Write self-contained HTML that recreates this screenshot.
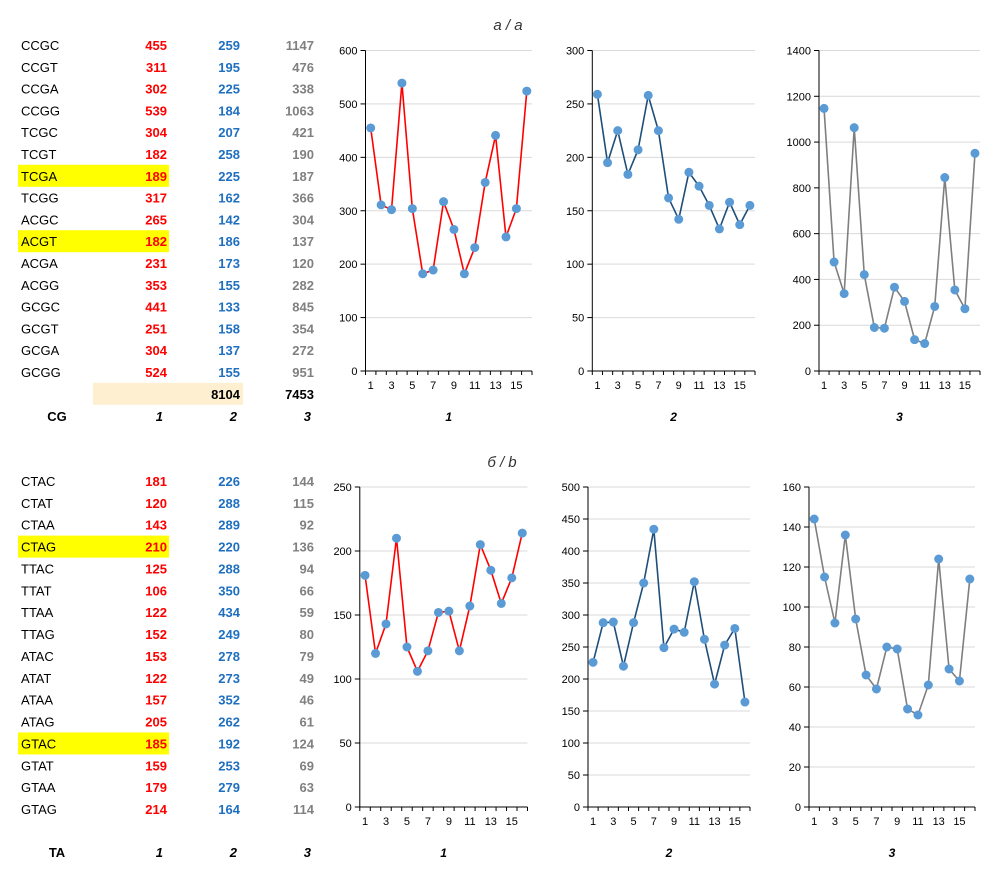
<!DOCTYPE html>
<html><head><meta charset="utf-8"><style>
body{margin:0;background:#fff;width:994px;height:876px;overflow:hidden;font-family:"Liberation Sans",Arial,sans-serif}
svg{display:block}
</style></head><body>
<svg id="s" width="994" height="876" font-family="Liberation Sans, Arial, sans-serif">
<text x="508" y="30" font-size="15" font-style="italic" fill="#333" text-anchor="middle">а / a</text>
<text x="502" y="467" font-size="15" font-style="italic" fill="#333" text-anchor="middle">б / b</text>
</svg>
<script>
const namesA=["CCGC","CCGT","CCGA","CCGG","TCGC","TCGT","TCGA","TCGG","ACGC","ACGT","ACGA","ACGG","GCGC","GCGT","GCGA","GCGG"];
const a1=[455,311,302,539,304,182,189,317,265,182,231,353,441,251,304,524];
const a2=[259,195,225,184,207,258,225,162,142,186,173,155,133,158,137,155];
const a3=[1147,476,338,1063,421,190,187,366,304,137,120,282,845,354,272,951];
const namesB=["CTAC","CTAT","CTAA","CTAG","TTAC","TTAT","TTAA","TTAG","ATAC","ATAT","ATAA","ATAG","GTAC","GTAT","GTAA","GTAG"];
const b1=[181,120,143,210,125,106,122,152,153,122,157,205,185,159,179,214];
const b2=[226,288,289,220,288,350,434,249,278,273,352,262,192,253,279,164];
const b3=[144,115,92,136,94,66,59,80,79,49,46,61,124,69,63,114];
const hlA=["TCGA","ACGT"], hlB=["CTAG","GTAC"];
const NS="http://www.w3.org/2000/svg";
const svg=document.getElementById('s');
function mk(t,at,txt){const e=document.createElementNS(NS,t);for(const k in at)e.setAttribute(k,at[k]);if(txt!==undefined)e.textContent=txt;svg.appendChild(e);return e;}

function table(names,c1,c2,c3,hl,y0,step,labelY,tag,tot){
  names.forEach((n,i)=>{
    const y=y0+i*step;
    if(hl.includes(n)){const r=mk('rect',{x:18,y:y-11,width:151,height:22,fill:'#ffff00'});
      
      }
    const t=mk('text',{x:21,y:y+5,'font-size':13,fill:'#000'},n);
    
    
    [[c1,167,'#ff0000'],[c2,240,'#1f6fc0'],[c3,314,'#808080']].forEach(([arr,x,c],j)=>{
      const v=mk('text',{x:x,y:y+5,'font-size':13,'font-weight':'bold',fill:c,'text-anchor':'end'},arr[i]);
      
      
    });
  });
  if(tot){
    const y=y0+16*step;
    const r=mk('rect',{x:93,y:y-11,width:150,height:22,fill:'#fdefcf'});
    
    
    const t1=mk('text',{x:240,y:y+5,'font-size':13,'font-weight':'bold',fill:'#000','text-anchor':'end'},tot[0]);
    
    
    const t2=mk('text',{x:314,y:y+5,'font-size':13,'font-weight':'bold',fill:'#000','text-anchor':'end'},tot[1]);
    
    
  }
  const h=mk('text',{x:57,y:labelY+5,'font-size':13,'font-weight':'bold','text-anchor':'middle'},tag);
  
  
  [['1',163],['2',237],['3',311]].forEach(([s,x])=>{
    const e=mk('text',{x:x,y:labelY+5,'font-size':13,'font-weight':'bold','font-style':'italic','text-anchor':'end'},s);
    
    
  });
}
table(namesA,a1,a2,a3,hlA,45,21.8,416,'CG',[8104,7453]);
table(namesB,b1,b2,b3,hlB,481,21.87,852,'TA',null);

function chart(vals,L,R,T,B,max,step,color,name,label,labY){
  const n=vals.length, w=(R-L)/n;
  const xs=i=>L+(i+0.5)*w, ys=v=>B-(v/max)*(B-T);
  for(let v=0;v<=max+1e-9;v+=step){
    const y=ys(v);
    if(v>0){const g=mk('line',{x1:L,x2:R,y1:y,y2:y,stroke:'#d9d9d9','stroke-width':1});
      
      }
    mk('line',{x1:L-5,x2:L,y1:y,y2:y,stroke:'#000'});
    const t=mk('text',{x:L-8,y:y+4,'font-size':11,'text-anchor':'end',fill:'#000'},v);
    
    
  }
  const ax=mk('line',{x1:L,x2:L,y1:T,y2:B,stroke:'#000'});
  
  
  const bx=mk('line',{x1:L,x2:R,y1:B,y2:B,stroke:'#000'});
  
  
  for(let i=0;i<=n;i++)mk('line',{x1:L+i*w,x2:L+i*w,y1:B,y2:B+4,stroke:'#000'});
  for(let i=0;i<n;i+=2){
    const t=mk('text',{x:xs(i),y:B+18,'font-size':11,'text-anchor':'middle'},i+1);
    
    
  }
  const p=mk('polyline',{points:vals.map((v,i)=>xs(i)+','+ys(v)).join(' '),fill:'none',stroke:color,'stroke-width':1.6});
  
  
  vals.forEach((v,i)=>{
    const c=mk('circle',{cx:xs(i),cy:ys(v),r:4.5,fill:'#5b9bd5'});
    
    
  });
  const c=mk('text',{x:(L+R)/2,y:labY+5,'font-size':12,'font-weight':'bold','font-style':'italic','text-anchor':'middle'},label);
  
  
}
chart(a1,365.5,532,50.5,371,600,100,'#ff0000','cg-1','1',416);
chart(a2,592.3,755,50.5,371,300,50,'#1f4e79','cg-2','2',416);
chart(a3,819,980,50.5,371,1400,200,'#7f7f7f','cg-3','3',416);
chart(b1,359.8,527.5,487,807,250,50,'#ff0000','ta-1','1',852);
chart(b2,588,750,487,807,500,50,'#1f4e79','ta-2','2',852);
chart(b3,809,975,487,807,160,20,'#7f7f7f','ta-3','3',852);
</script>
</body></html>
